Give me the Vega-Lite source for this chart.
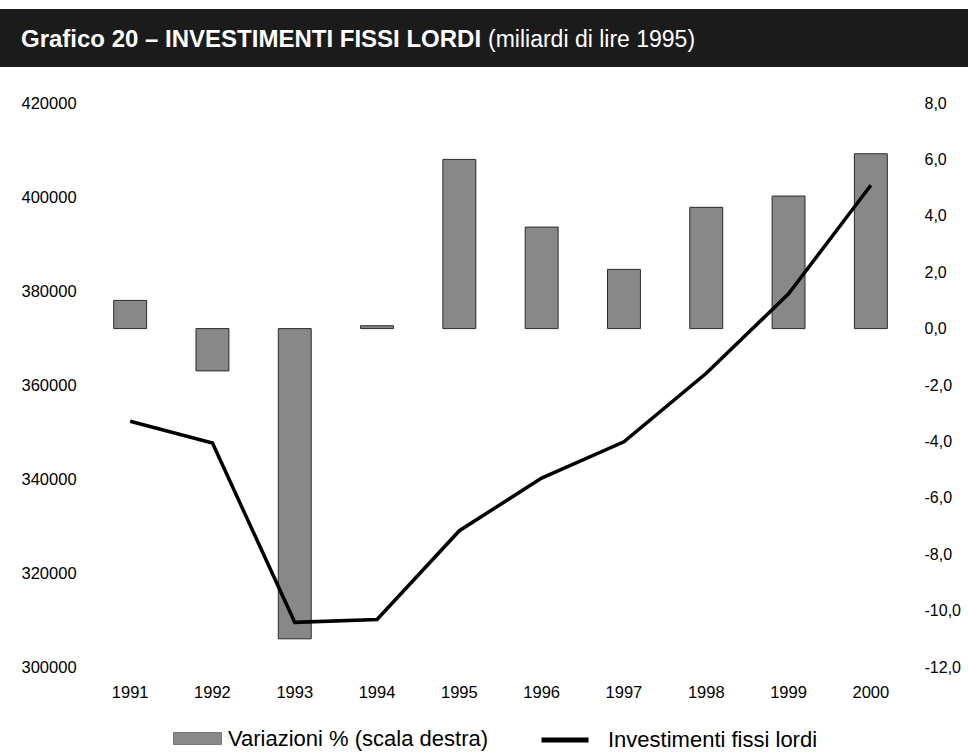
{
  "$schema": "https://vega.github.io/schema/vega-lite/v6.json",
  "padding": {"left": 0, "top": 9, "right": 0, "bottom": 0},
  "background": "white",
  "spacing": 28,
  "config": {
    "view": {"stroke": null},
    "font": "Liberation Sans",
    "axis": {"grid": false, "ticks": false, "domain": false, "labelColor": "black", "labelFont": "Liberation Sans"},
    "legend": {"labelColor": "black", "labelFont": "Liberation Sans"}
  },
  "vconcat": [
    {
      "width": 879,
      "height": 58,
      "data": {"values": [{"titolo": "Grafico 20 – INVESTIMENTI FISSI LORDI", "unita": "(miliardi di lire 1995)"}]},
      "layer": [
        {
          "mark": {"type": "rect", "color": "#1b1b1b"},
          "encoding": {"x": {"value": -89}, "x2": {"value": 879}, "y": {"value": 0}, "y2": {"value": 58}}
        },
        {
          "mark": {"type": "text", "align": "left", "baseline": "middle", "fontSize": 24, "fontWeight": "bold", "color": "white"},
          "encoding": {"x": {"value": -68}, "y": {"value": 31}, "text": {"field": "titolo"}}
        },
        {
          "mark": {"type": "text", "align": "left", "baseline": "middle", "fontSize": 23, "fontWeight": "normal", "color": "white"},
          "encoding": {"x": {"value": 399}, "y": {"value": 31}, "text": {"field": "unita"}}
        }
      ]
    },
    {
      "width": 823,
      "height": 564,
      "data": {
        "values": [
          {"anno": "1991", "variazione": 1.0, "investimenti": 352300},
          {"anno": "1992", "variazione": -1.5, "investimenti": 347650},
          {"anno": "1993", "variazione": -11.0, "investimenti": 309500},
          {"anno": "1994", "variazione": 0.1, "investimenti": 310100},
          {"anno": "1995", "variazione": 6.0, "investimenti": 329000},
          {"anno": "1996", "variazione": 3.6, "investimenti": 340200},
          {"anno": "1997", "variazione": 2.1, "investimenti": 347900},
          {"anno": "1998", "variazione": 4.3, "investimenti": 362500},
          {"anno": "1999", "variazione": 4.7, "investimenti": 379400},
          {"anno": "2000", "variazione": 6.2, "investimenti": 402500}
        ]
      },
      "encoding": {
        "x": {
          "field": "anno",
          "type": "ordinal",
          "scale": {"paddingInner": 0.6, "paddingOuter": 0.3},
          "axis": {"title": null, "labelAngle": 0, "labelFontSize": 16.5, "labelPadding": 17}
        }
      },
      "layer": [
        {
          "mark": {"type": "bar", "stroke": "#2a2a2a", "strokeWidth": 1},
          "encoding": {
            "y": {
              "field": "variazione",
              "type": "quantitative",
              "scale": {"domain": [-12, 8], "nice": false},
              "axis": {
                "orient": "right",
                "title": null,
                "values": [-12, -10, -8, -6, -4, -2, 0, 2, 4, 6, 8],
                "labelExpr": "replace(replace(format(datum.value, '.1f'), '.', ','), '−', '-')",
                "labelAlign": "left",
                "labelPadding": 12,
                "labelFontSize": 16
              }
            },
            "fill": {
              "datum": "Variazioni % (scala destra)",
              "scale": {"range": ["#888888"]},
              "legend": {
                "orient": "none",
                "legendX": 84,
                "legendY": 611,
                "title": null,
                "padding": 0,
                "symbolType": "M-1,-0.25H1V0.25H-1Z",
                "symbolSize": 2304,
                "symbolStrokeColor": "#2a2a2a",
                "symbolStrokeWidth": 0.5,
                "labelFontSize": 22,
                "labelLimit": 500,
                "labelOffset": 6
              }
            }
          }
        },
        {
          "mark": {"type": "line", "strokeWidth": 3.5, "color": "black"},
          "encoding": {
            "y": {
              "field": "investimenti",
              "type": "quantitative",
              "scale": {"domain": [300000, 420000], "nice": false, "zero": false},
              "axis": {
                "orient": "left",
                "title": null,
                "values": [300000, 320000, 340000, 360000, 380000, 400000, 420000],
                "format": "d",
                "labelAlign": "left",
                "labelPadding": 68,
                "minExtent": 89,
                "labelFontSize": 16.5
              }
            },
            "stroke": {
              "datum": "Investimenti fissi lordi",
              "scale": {"range": ["black"]},
              "legend": {
                "orient": "none",
                "legendX": 450,
                "legendY": 611,
                "title": null,
                "padding": 0,
                "symbolType": "stroke",
                "symbolSize": 2209,
                "symbolStrokeWidth": 5,
                "labelFontSize": 22,
                "labelLimit": 500,
                "labelOffset": 17
              }
            }
          }
        }
      ],
      "resolve": {"scale": {"y": "independent", "fill": "independent", "stroke": "independent"}}
    }
  ]
}
